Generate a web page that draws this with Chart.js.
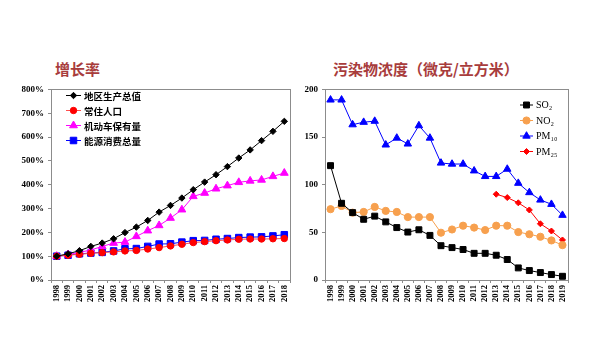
<!DOCTYPE html>
<html>
<head>
<meta charset="utf-8">
<script src="https://cdn.jsdelivr.net/npm/chart.js@4"></script>
<style>
  body { margin: 0; background: #fff; width: 600px; height: 364px; position: relative; overflow: hidden; }
  .title { position: absolute; top: 58px; font: bold 15px "Noto Sans CJK SC", sans-serif; color: #A83C3C; }
  .box { position: absolute; top: 80px; width: 300px; height: 240px; }
</style>
</head>
<body>
<div class="title" style="left:55px">增长率</div>
<div class="title" style="left:333px">污染物浓度（微克/立方米）</div>
<div class="box" style="left:0"><canvas id="growthChart" width="300" height="240"></canvas></div>
<div class="box" style="left:300px"><canvas id="pollutionChart" width="300" height="240"></canvas></div>
<script>
// growth chart data (%)
const growthYears = ['1998','1999','2000','2001','2002','2003','2004','2005','2006','2007','2008','2009','2010','2011','2012','2013','2014','2015','2016','2017','2018'];
const gdp        = [100,110,123,141,155,173,199,222,250,285,313,344,379,411,442,476,512,546,585,624,666];
const population = [100,104,108,112,115,118,122,124,130,136,143,150,157,161,165,168,171,172,172,173,174];
const vehicles   = [100,107,116,126,141,155,159,183,207,229,260,295,351,365,383,396,410,416,420,435,449];
const energy     = [100,104,110,113,116,122,131,132,141,151,152,159,165,166,171,174,178,180,181,185,190];
const growthTicks = [0,100,200,300,400,500,600,700,800];

// pollution chart data (µg/m3)
const pollutionYears = ['1998','1999','2000','2001','2002','2003','2004','2005','2006','2007','2008','2009','2010','2011','2012','2013','2014','2015','2016','2017','2018','2019'];
const so2  = [120,80.5,70.7,63.7,67,61,55,50.3,52.7,46.8,36,34,32,28,28,26,21.5,12.7,9.9,7.8,5.7,3.9];
const no2  = [74.3,77.7,70.7,71.4,76.7,72.5,71.4,66,66,66,49.6,53,57,55,52.4,57,57,50.3,48,45.4,41.5,36.6];
const pm10 = [189,189,163,165.6,166.7,141.8,149,142.8,162,149,122.8,121.7,121.7,114.6,108.7,108.7,116.4,101.6,91.8,84,79.5,68];
const pm25 = [null,null,null,null,null,null,null,null,null,null,null,null,null,null,null,90,86.5,81,73.5,59,51.4,42];
const pollutionTicks = [0,50,100,150,200];

const tickFont = { family: '"Liberation Serif", serif', weight: 'bold', size: 9 };
const axisGray = '#8c8c8c';

// frame round plot area + legend inside it
const frameLegend = {
  id: 'frameLegend',
  afterDraw(chart, args, opts) {
    const ctx = chart.ctx, a = chart.chartArea;
    ctx.save();
    ctx.strokeStyle = axisGray;
    ctx.lineWidth = 1;
    ctx.strokeRect(Math.round(a.left) + 0.5, Math.round(a.top) + 0.5, Math.round(a.right - a.left), Math.round(a.bottom - a.top));
    chart.data.datasets.forEach((ds, i) => {
      const y = opts.y + i * opts.step;
      ctx.strokeStyle = ds.borderColor;
      ctx.lineWidth = 1;
      ctx.beginPath();
      ctx.moveTo(opts.x, y);
      ctx.lineTo(opts.x + opts.len, y);
      ctx.stroke();
      ctx.fillStyle = ds.pointBackgroundColor;
      ctx.strokeStyle = ds.pointBorderColor;
      Chart.helpers.drawPoint(ctx, { pointStyle: ds.pointStyle, radius: ds.pointRadius, borderWidth: 1, rotation: 0 }, opts.x + opts.len / 2, y);
      ctx.fillStyle = '#000';
      ctx.font = opts.font;
      ctx.textBaseline = 'middle';
      ctx.fillText(ds.label, opts.x + opts.len + 3, y + 0.5);
    });
    ctx.restore();
  }
};

function line(label, data, color, style, radius, markColor) {
  return {
    label: label,
    data: data,
    borderColor: color,
    borderWidth: 1,
    pointStyle: style,
    pointRadius: radius,
    pointHoverRadius: radius,
    pointBackgroundColor: markColor || color,
    pointBorderColor: markColor || color,
    pointBorderWidth: 1,
    tension: 0,
    spanGaps: false
  };
}

function baseOptions(yMax, yStep, yWidth, pad, legendOpts, fmt) {
  return {
    responsive: false,
    animation: false,
    layout: { padding: pad },
    plugins: { legend: { display: false }, tooltip: { enabled: false }, frameLegend: legendOpts },
    scales: {
      x: {
        offset: true,
        grid: { offset: true, drawOnChartArea: false, tickLength: 3, color: axisGray },
        border: { color: axisGray },
        ticks: { font: { family: '"Liberation Serif", serif', weight: 'bold', size: 8.5 }, color: '#000', minRotation: 90, maxRotation: 90, autoSkip: false, padding: 2 },
        afterFit: s => { s.height = 34; }
      },
      y: {
        min: 0, max: yMax,
        grid: { drawOnChartArea: false, tickLength: 3, color: axisGray },
        border: { color: axisGray },
        ticks: { stepSize: yStep, font: tickFont, color: '#000', padding: 4, callback: fmt },
        afterFit: s => { s.width = yWidth; }
      }
    }
  };
}

new Chart(document.getElementById('growthChart'), {
  type: 'line',
  data: {
    labels: growthYears,
    datasets: [
      line('地区生产总值', gdp, '#000000', 'rectRot', 3.2),
      line('常住人口', population, '#FF5050', 'circle', 3.2, '#FF0000'),
      line('机动车保有量', vehicles, '#FF00FF', 'triangle', 4.5),
      line('能源消费总量', energy, '#0000FF', 'rect', 4.6)
    ]
  },
  options: baseOptions(growthTicks[growthTicks.length - 1], 100, 51, { top: 8, right: 10, bottom: 6, left: 0 },
    { x: 66, y: 15.5, step: 15, len: 15, font: 'bold 9.5px "Noto Sans CJK SC", sans-serif' },
    v => v + '%'),
  plugins: [frameLegend]
});

new Chart(document.getElementById('pollutionChart'), {
  type: 'line',
  data: {
    labels: pollutionYears,
    datasets: [
      line('SO₂', so2, '#000000', 'rect', 4.2),
      line('NO₂', no2, '#F7A04E', 'circle', 3.6),
      line('PM₁₀', pm10, '#0000FF', 'triangle', 4.3),
      line('PM₂₅', pm25, '#FF0000', 'rectRot', 3)
    ]
  },
  options: baseOptions(pollutionTicks[pollutionTicks.length - 1], 50, 25, { top: 8, right: 32, bottom: 6, left: 0 },
    { x: 220, y: 25, step: 15.5, len: 13, font: '10px "Liberation Serif", serif' },
    v => v),
  plugins: [frameLegend]
});
</script>
</body>
</html>
